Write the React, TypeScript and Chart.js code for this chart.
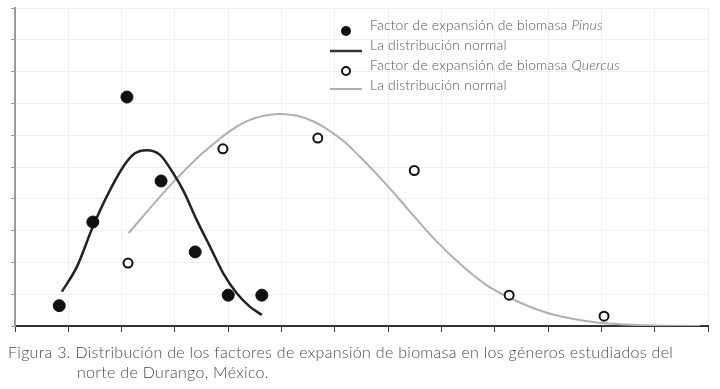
import React, { useEffect, useRef } from "react";
import { Chart, registerables } from "chart.js";

Chart.register(...registerables);

// Observed data (x, y in axis units)
const pinusX = [0.83, 1.46, 2.1, 2.74, 3.38, 4.0, 4.63];
const pinusY = [0.64, 3.27, 7.2, 4.56, 2.33, 0.97, 0.97];

const quercusX = [2.12, 3.9, 5.68, 7.49, 9.27, 11.05];
const quercusY = [1.98, 5.57, 5.91, 4.89, 0.97, 0.31];

// Normal distribution curves
const pinusCurveX = [0.88, 1.16, 1.46, 1.72, 2.03, 2.25, 2.47, 2.72, 2.97, 3.16, 3.41, 3.66, 3.91, 4.16, 4.41, 4.63];
const pinusCurveY = [1.08, 1.86, 3.12, 4.07, 5.01, 5.43, 5.53, 5.38, 4.8, 4.25, 3.33, 2.49, 1.65, 1.03, 0.6, 0.35];

const quercusCurveX = [2.13, 2.57, 3.0, 3.41, 3.72, 4.03, 4.35, 4.66, 4.97, 5.29, 5.6, 5.91, 6.19, 6.47, 6.85, 7.22, 7.47, 7.91, 8.41, 8.85, 9.29, 9.79, 10.29, 10.91, 11.66, 12.85];
const quercusCurveY = [2.92, 3.78, 4.58, 5.27, 5.72, 6.13, 6.44, 6.61, 6.67, 6.61, 6.43, 6.13, 5.78, 5.32, 4.66, 3.97, 3.48, 2.66, 1.86, 1.28, 0.88, 0.52, 0.28, 0.11, 0.03, 0.0];

const legendLabels = [
  { pre: "Factor de expansión de biomasa ", it: "Pinus" },
  { pre: "La distribución normal", it: "" },
  { pre: "Factor de expansión de biomasa ", it: "Quercus" },
  { pre: "La distribución normal", it: "" },
];

const captionLine1 = "Figura 3. Distribución de los factores de expansión de biomasa en los géneros estudiados del";
const captionLine2 = "norte de Durango, México.";

const zip = (xs: number[], ys: number[]) => xs.map((x, i) => ({ x, y: ys[i] }));

const FONT = "Lato, 'Open Sans', sans-serif";

const legendPlugin = {
  id: "customLegend",
  afterDraw(chart: any) {
    const ctx = chart.ctx;
    ctx.save();
    const markX = 346;
    const textX = 370;
    const rows = [25, 45, 65, 85];
    const markY = [31, 51, 71, 89];
    ctx.fillStyle = "#111";
    ctx.beginPath();
    ctx.arc(markX, markY[0], 5, 0, Math.PI * 2);
    ctx.fill();
    ctx.strokeStyle = "#333";
    ctx.lineWidth = 2.5;
    ctx.beginPath();
    ctx.moveTo(330, markY[1]);
    ctx.lineTo(362, markY[1]);
    ctx.stroke();
    ctx.fillStyle = "#fff";
    ctx.strokeStyle = "#111";
    ctx.lineWidth = 2;
    ctx.beginPath();
    ctx.arc(markX, markY[2], 4, 0, Math.PI * 2);
    ctx.fill();
    ctx.stroke();
    ctx.strokeStyle = "#b0b0b0";
    ctx.lineWidth = 2;
    ctx.beginPath();
    ctx.moveTo(330, markY[3]);
    ctx.lineTo(362, markY[3]);
    ctx.stroke();

    ctx.fillStyle = "#555";
    ctx.textBaseline = "middle";
    try {
      ctx.letterSpacing = "0.15px";
    } catch (e) {}
    legendLabels.forEach((l, i) => {
      ctx.font = `300 14px ${FONT}`;
      ctx.fillText(l.pre, textX, rows[i]);
      if (l.it) {
        const w = ctx.measureText(l.pre).width;
        ctx.font = `italic 300 14px ${FONT}`;
        ctx.fillText(l.it, textX + w, rows[i]);
      }
    });
    ctx.restore();
  },
};

const captionStyle = {
  position: "absolute" as const,
  fontFamily: FONT,
  fontWeight: 300,
  fontSize: 16,
  letterSpacing: "0.3px",
  color: "#4a4a4a",
  whiteSpace: "nowrap" as const,
  lineHeight: "20px",
};

export default function App() {
  const ref = useRef<HTMLCanvasElement | null>(null);

  useEffect(() => {
    if (!ref.current) return;
    const chart = new Chart(ref.current, {
      type: "scatter",
      data: {
        datasets: [
          {
            label: "Factor de expansión de biomasa Pinus",
            data: zip(pinusX, pinusY),
            backgroundColor: "#111",
            borderColor: "#111",
            pointRadius: 6,
            showLine: false,
            order: 0,
          },
          {
            label: "Factor de expansión de biomasa Quercus",
            data: zip(quercusX, quercusY),
            backgroundColor: "#fff",
            borderColor: "#111",
            borderWidth: 2,
            pointRadius: 4.5,
            showLine: false,
            order: 0,
          },
          {
            label: "La distribución normal (Pinus)",
            data: zip(pinusCurveX, pinusCurveY),
            borderColor: "#222",
            borderWidth: 2.5,
            pointRadius: 0,
            showLine: true,
            cubicInterpolationMode: "monotone",
            order: 1,
          },
          {
            label: "La distribución normal (Quercus)",
            data: zip(quercusCurveX, quercusCurveY),
            borderColor: "#b0b0b0",
            borderWidth: 2,
            pointRadius: 0,
            showLine: true,
            cubicInterpolationMode: "monotone",
            order: 2,
          },
        ],
      },
      options: {
        animation: false,
        responsive: false,
        layout: { padding: { left: 0, top: 8, right: 12, bottom: 0 } },
        plugins: { legend: { display: false }, tooltip: { enabled: false } },
        scales: {
          x: {
            type: "linear",
            min: 0,
            max: 13,
            ticks: { display: false, stepSize: 1 },
            grid: { color: "#efefef", tickColor: "#333", tickLength: 6, lineWidth: 1 },
            border: { color: "#333", width: 2 },
            afterFit: (s: any) => {
              s.height = 63;
            },
          },
          y: {
            min: 0,
            max: 10,
            ticks: { display: false, stepSize: 1 },
            grid: { color: "#efefef", tickColor: "#999", tickLength: 4, lineWidth: 1 },
            border: { color: "#9a9a9a", width: 2 },
            afterFit: (s: any) => {
              s.width = 15;
            },
          },
        },
      },
      plugins: [legendPlugin],
    });
    return () => chart.destroy();
  }, []);

  return (
    <div style={{ position: "fixed", left: 0, top: 0, width: 720, height: 389, background: "#fff" }}>
      <canvas ref={ref} width={720} height={389} style={{ display: "block" }} />
      <div style={{ ...captionStyle, left: 8, top: 342 }}>{captionLine1}</div>
      <div style={{ ...captionStyle, left: 77, top: 362 }}>{captionLine2}</div>
    </div>
  );
}
